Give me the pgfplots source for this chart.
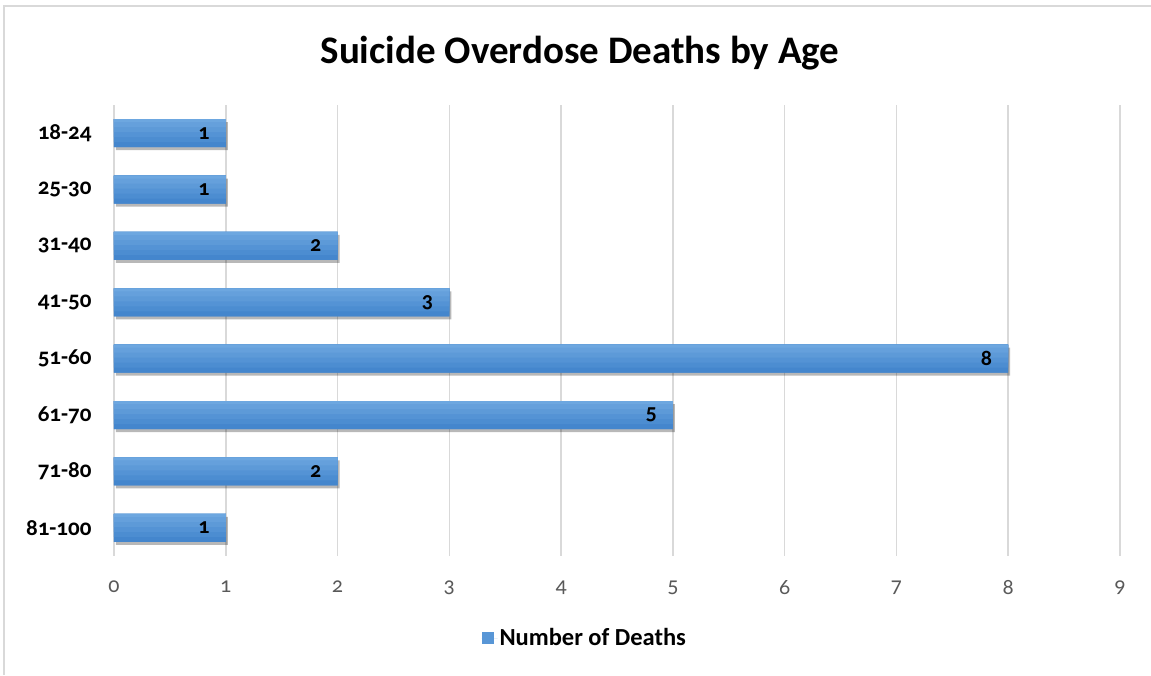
\documentclass[border=0pt]{standalone}
\usepackage{pgfplots}
\pgfplotsset{compat=1.18}
\usepackage{fontspec}
\setmainfont{Carlito}[Numbers=OldStyle]
\usetikzlibrary{shadows}
\definecolor{barTop}{HTML}{6DA7E0}
\definecolor{barBot}{HTML}{4486CD}
\definecolor{gridc}{HTML}{D9D9D9}
\definecolor{tickc}{HTML}{595959}

\pgfplotstableread{
idx deaths
1 1
2 1
3 2
4 3
5 8
6 5
7 2
8 1
}\agedata

\begin{document}
\begin{tikzpicture}[x=1pt,y=1pt]
\path[use as bounding box] (0,0) rectangle (1151,675);
% frame (left and top edges)
\draw[gridc, line width=2pt] (4,0) -- (4,669) -- (1151,669);
% title
\node[font=\fontsize{39}{45}\selectfont\bfseries] at (580,622) {Suicide Overdose Deaths by Age};
\begin{axis}[
  at={(114pt,119pt)}, anchor=south west,
  scale only axis, width=1006pt, height=451pt,
  xbar, bar width=28pt,
  xmin=0, xmax=9, ymin=0.5, ymax=8.5,
  y dir=reverse,
  xtick={0,...,9},
  ytick={1,...,8},
  yticklabels={18-24,25-30,31-40,41-50,51-60,61-70,71-80,81-100},
  axis line style={draw=none},
  major tick length=0pt,
  xmajorgrids, grid style={gridc, line width=1.6pt},
  /pgf/number format/assume math mode=true,
  xticklabel style={font=\fontsize{22}{26}\selectfont, text=tickc, yshift=-21pt},
  yticklabel style={font=\fontsize{23}{27}\selectfont\bfseries, xshift=-19pt},
  legend style={at={(0.468,-0.182)}, anchor=center, draw=none,
    font=\fontsize{24.5}{28}\selectfont\bfseries},
  legend image code/.code={%
    \path (0pt,0pt) -- (16pt,0pt);
    \fill[barTop!50!barBot] (0pt,-6pt) rectangle (12pt,6pt);},
]
% shadow layer
\addplot[forget plot, draw=none, fill=barBot, bar width=28pt, bar shift=0pt,
  drop shadow={fill=black, opacity=0.28, shadow xshift=2pt, shadow yshift=-3pt}]
  table[x=deaths, y=idx] {\agedata};
% base bar
\addplot[draw=none, fill=barBot, bar width=28pt, bar shift=0pt]
  table[x=deaths, y=idx] {\agedata};
\addlegendentry{Number of Deaths}
% lighter bands, aligned to the top edge of each bar
\addplot[forget plot, draw=none, fill=barTop!20!barBot, bar width=23pt, bar shift=2.5pt]
  table[x=deaths, y=idx] {\agedata};
\addplot[forget plot, draw=none, fill=barTop!40!barBot, bar width=18pt, bar shift=5pt]
  table[x=deaths, y=idx] {\agedata};
\addplot[forget plot, draw=none, fill=barTop!60!barBot, bar width=13pt, bar shift=7.5pt]
  table[x=deaths, y=idx] {\agedata};
\addplot[forget plot, draw=none, fill=barTop!80!barBot, bar width=8pt, bar shift=10pt]
  table[x=deaths, y=idx] {\agedata};
\addplot[forget plot, draw=none, fill=barTop, bar width=3pt, bar shift=12.5pt]
  table[x=deaths, y=idx] {\agedata};
% value labels
\addplot[forget plot, draw=none, fill=none, bar width=28pt, bar shift=0pt,
  nodes near coords,
  every node near coord/.append style={anchor=east, xshift=-16pt, inner sep=0pt,
    font=\fontsize{22}{26}\selectfont\bfseries, text=black}]
  table[x=deaths, y=idx] {\agedata};
\end{axis}
\end{tikzpicture}
\end{document}
